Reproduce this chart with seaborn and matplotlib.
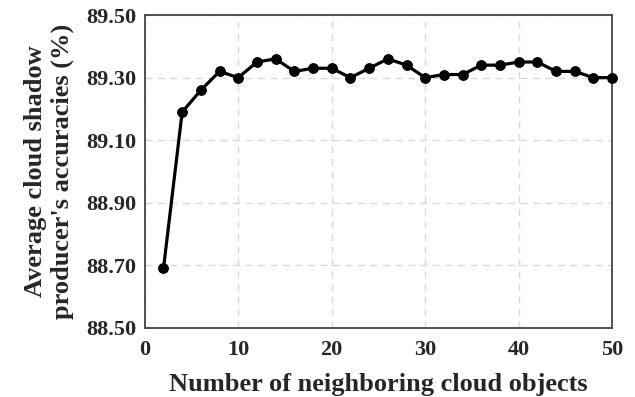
import matplotlib
matplotlib.use("Agg")
import matplotlib.pyplot as plt
from matplotlib.ticker import MultipleLocator, FormatStrFormatter
import seaborn as sns
import pandas as pd

# Number of neighboring cloud objects and the resulting accuracy
neighbors = [2, 4, 6, 8, 10, 12, 14, 16, 18, 20, 22, 24, 26,
             28, 30, 32, 34, 36, 38, 40, 42, 44, 46, 48, 50]
accuracy = [88.69, 89.19, 89.26, 89.32, 89.30, 89.35, 89.36, 89.32, 89.33,
            89.33, 89.30, 89.33, 89.36, 89.34, 89.30, 89.31, 89.31, 89.34,
            89.34, 89.35, 89.35, 89.32, 89.32, 89.30, 89.30]
x_ticks = [0, 10, 20, 30, 40, 50]
y_ticks = [88.50, 88.70, 88.90, 89.10, 89.30, 89.50]

df = pd.DataFrame({"neighbors": neighbors, "accuracy": accuracy})

sns.set_style("white")
plt.rcParams["font.family"] = ["Liberation Serif", "DejaVu Serif"]
plt.rcParams["font.weight"] = "bold"

fig = plt.figure(figsize=(6.35, 3.97), dpi=100)
ax = fig.add_axes([0.228, 0.174, 0.736, 0.788])

sns.lineplot(data=df, x="neighbors", y="accuracy", ax=ax, color="black",
             linewidth=2.3, marker="o", markersize=7, markeredgecolor="black",
             clip_on=False, zorder=3)

ax.set_xlim(0, 50)
ax.set_ylim(88.50, 89.50)
ax.set_xticks(x_ticks)
ax.set_yticks(y_ticks)
ax.xaxis.set_minor_locator(MultipleLocator(2))
ax.yaxis.set_major_formatter(FormatStrFormatter("%.2f"))

ax.grid(True, which="major", linestyle=(0, (5, 4)), color="#d9d9d9", linewidth=1)
ax.set_axisbelow(True)

for s in ax.spines.values():
    s.set_color("#444444")
    s.set_linewidth(1.3)

ax.tick_params(axis="both", which="major", direction="in", length=5,
               width=1, color="#444444", labelsize=16, pad=6)
ax.tick_params(axis="x", which="major", pad=9)
ax.tick_params(axis="x", which="minor", direction="in", length=3,
               width=1, color="#444444")
ax.tick_params(axis="y", which="minor", left=False)
for lab in ax.get_xticklabels() + ax.get_yticklabels():
    lab.set_fontweight("bold")

ax.set_xlabel("Number of neighboring cloud objects", fontsize=19,
              fontweight="bold", labelpad=9)
ax.set_ylabel("Average cloud shadow\nproducer's accuracies (%)", fontsize=19,
              fontweight="bold", labelpad=9, linespacing=1.2)

fig.savefig("out.png", dpi=100)
